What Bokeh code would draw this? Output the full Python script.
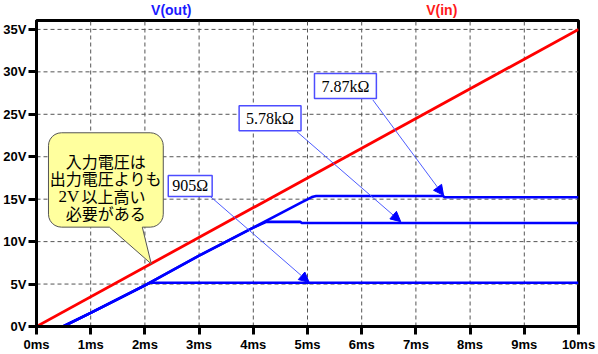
import math
from bokeh.plotting import figure
from bokeh.layouts import column
from bokeh.models import FixedTicker, Label, Arrow, NormalHead, Range1d
from bokeh.embed import file_html
from bokeh.resources import INLINE

# ---------------- data ----------------
t_in = [0, 10]
v_in = [0, 35]

t_905 = [0, 0.49, 1, 2, 2.09, 10]
v_905 = [0, 0, 1.6, 4.85, 5.15, 5.15]

t_578k = [0, 0.49, 1, 2, 3, 4, 4.24, 4.87, 4.89, 10]
v_578k = [0, 0, 1.6, 4.85, 8.35, 11.65, 12.33, 12.33, 12.2, 12.2]

t_787k = [0, 0.49, 1, 2, 3, 4, 4.88, 5.08, 5.16, 7.5, 7.53, 10]
v_787k = [0, 0, 1.6, 4.85, 8.35, 11.65, 14.6, 15.25, 15.37, 15.37, 15.22, 15.22]

x_ticks = [0, 1, 2, 3, 4, 5, 6, 7, 8, 9, 10]
x_tick_labels = ["0ms", "1ms", "2ms", "3ms", "4ms", "5ms", "6ms", "7ms", "8ms", "9ms", "10ms"]
y_ticks = [0, 5, 10, 15, 20, 25, 30, 35]
y_tick_labels = ["0V", "5V", "10V", "15V", "20V", "25V", "30V", "35V"]

trace_names = ["V(out)", "V(in)"]
r_labels = ["905Ω", "5.78kΩ", "7.87kΩ"]
note_lines = ["入力電圧は", "出力電圧よりも", "2V", "以上高い", "必要がある"]

# ---------------- helpers (pixel -> data for annotations) ----------------
L, R, T, B = 35, 578, 20, 328
HEAD = 18
YMAX = 36.05
def X(px):
    return (px - L) / (R - L) * 10.0
def Y(py):
    return (B - py) / (B - T) * YMAX

xr = Range1d(0, 10)

header = figure(width=598, height=HEAD, x_range=xr, y_range=Range1d(0, 1),
                output_backend="svg", toolbar_location=None,
                min_border_left=L, min_border_right=598 - R, min_border_top=0, min_border_bottom=0)
header.axis.visible = False
header.grid.visible = False
header.outline_line_color = None
header.background_fill_color = "white"
header.border_fill_color = "white"
header.add_layout(Label(x=X(170), y=0.45, text=trace_names[0], text_color="#1a1aff",
                        text_font="Liberation Sans", text_font_style="bold", text_font_size="14px",
                        text_align="center", text_baseline="middle"))
header.add_layout(Label(x=X(441), y=0.45, text=trace_names[1], text_color="#ff1a1a",
                        text_font="Liberation Sans", text_font_style="bold", text_font_size="14px",
                        text_align="center", text_baseline="middle"))

p = figure(width=598, height=354 - HEAD, x_range=xr, y_range=Range1d(0, YMAX),
           output_backend="svg", toolbar_location=None,
           min_border_left=L, min_border_right=598 - R, min_border_top=T - HEAD,
           min_border_bottom=354 - B)
p.background_fill_color = "white"
p.border_fill_color = "white"
p.outline_line_color = "black"
p.outline_line_width = 3
p.outline_line_alpha = 1.0

for ax, ticks, labels in ((p.xaxis, x_ticks, x_tick_labels), (p.yaxis, y_ticks, y_tick_labels)):
    ax.ticker = FixedTicker(ticks=ticks)
    ax.major_label_overrides = {k: v for k, v in zip(ticks, labels)}
    ax.minor_tick_line_color = None
    ax.axis_line_width = 3
    ax.axis_line_color = "black"
    ax.major_tick_line_width = 3
    ax.major_tick_line_color = "black"
    ax.major_tick_in = 0
    ax.major_tick_out = 8
    ax.major_label_text_font = "Liberation Sans"
    ax.major_label_text_font_style = "bold"
    ax.major_label_text_font_size = "13px"
    ax.major_label_text_color = "black"
    ax.major_label_standoff = 2

# grid: dashed segments at the tick positions
p.grid.visible = False
inner_x = x_ticks[1:-1]
inner_y = y_ticks[1:]
p.segment(x0=inner_x, y0=[0] * len(inner_x), x1=inner_x, y1=[YMAX] * len(inner_x),
          line_color="#555555", line_width=1, line_dash="4 3")
p.segment(x0=[0] * len(inner_y), y0=inner_y, x1=[10] * len(inner_y), y1=inner_y,
          line_color="#555555", line_width=1, line_dash="4 3")

for t, v in ((t_905, v_905), (t_578k, v_578k), (t_787k, v_787k)):
    p.line(t, v, line_color="#0000ff", line_width=2.6)
p.line(t_in, v_in, line_color="#ff0000", line_width=2.8)

def rounded_rect(x0, y0, x1, y1, r, tail):
    pts = []
    def arc(cx, cy, a0, a1):
        for k in range(7):
            a = math.radians(a0 + (a1 - a0) * k / 6)
            pts.append((cx + r * math.cos(a), cy + r * math.sin(a)))
    arc(x0 + r, y0 + r, 180, 270)
    arc(x1 - r, y0 + r, 270, 360)
    arc(x1 - r, y1 - r, 0, 90)
    pts.extend(tail)
    arc(x0 + r, y1 - r, 90, 180)
    return pts

shape = rounded_rect(47, 133, 162, 228, 13, [(141, 228), (150, 265), (108, 228)])
p.patch([X(a) for a, b in shape], [Y(b) for a, b in shape],
        fill_color="#ffff9e", line_color="#555555", line_width=1)

note_font = "Noto Sans CJK JP"
def note(px, py, txt, align="center", font=note_font, size="16px"):
    p.add_layout(Label(x=X(px), y=Y(py), text=txt, text_font=font, text_font_size=size,
                       text_align=align, text_baseline="middle", text_color="black"))

note(104.5, 161, note_lines[0])
note(104.5, 179, note_lines[1])
note(57, 197, note_lines[2], align="left", font="Liberation Serif", size="17px")
note(80, 197, note_lines[3], align="left")
note(104.5, 214, note_lines[4])

label_specs = [
    (r_labels[0], (189, 186.5), (209, 197), (5.03, 5.2), (4, 2)),
    (r_labels[1], (269, 118.5), (296, 132), (6.72, 12.35), (7, 4)),
    (r_labels[2], (344.5, 86), (372, 100), (7.51, 15.45), (7, 4)),
]
for txt, (cx, cy), (sx, sy), (ex, ey), pad in label_specs:
    p.add_layout(Arrow(x_start=X(sx), y_start=Y(sy), x_end=ex, y_end=ey,
                       line_color="#4d5cff", line_width=1,
                       end=NormalHead(size=10, fill_color="#0000ff", line_color="#0000ff", line_width=1)))
    p.add_layout(Label(x=X(cx), y=Y(cy), text=txt, text_font="Liberation Serif",
                       text_font_size="16px", text_align="center", text_baseline="middle",
                       text_color="black", background_fill_color="white",
                       border_line_color="#4d4dff", border_line_width=1.5, padding=pad))

layout = column(header, p, spacing=0)
open("out.html", "w").write(file_html(layout, INLINE))
